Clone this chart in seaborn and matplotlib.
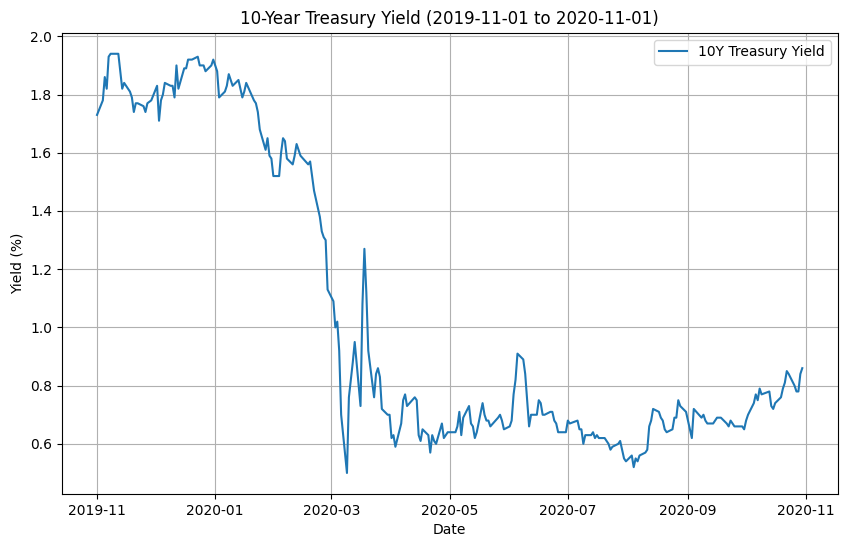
import pandas as pd
import seaborn as sns
import matplotlib.pyplot as plt

# Daily 10Y yields
nov19 = ["2019-11-01", "2019-11-04", "2019-11-05", "2019-11-06", "2019-11-07", "2019-11-08", "2019-11-12",
         "2019-11-13", "2019-11-14", "2019-11-15", "2019-11-18", "2019-11-19", "2019-11-20", "2019-11-21",
         "2019-11-22", "2019-11-25", "2019-11-26", "2019-11-27", "2019-11-29"]
nov19_y = [1.73, 1.78, 1.86, 1.82, 1.93, 1.94, 1.94, 1.88, 1.82, 1.84, 1.81, 1.79, 1.74, 1.77,
           1.77, 1.76, 1.74, 1.77, 1.78]
dec19 = ["2019-12-02", "2019-12-03", "2019-12-04", "2019-12-05", "2019-12-06", "2019-12-09", "2019-12-10",
         "2019-12-11", "2019-12-12", "2019-12-13", "2019-12-16", "2019-12-17", "2019-12-18", "2019-12-19",
         "2019-12-20", "2019-12-23", "2019-12-24", "2019-12-26", "2019-12-27", "2019-12-30", "2019-12-31"]
dec19_y = [1.83, 1.71, 1.78, 1.80, 1.84, 1.83, 1.83, 1.79, 1.90, 1.82, 1.89, 1.89, 1.92, 1.92,
           1.92, 1.93, 1.90, 1.90, 1.88, 1.90, 1.92]
jan20 = ["2020-01-02", "2020-01-03", "2020-01-06", "2020-01-07", "2020-01-08", "2020-01-09", "2020-01-10",
         "2020-01-13", "2020-01-14", "2020-01-15", "2020-01-16", "2020-01-17", "2020-01-21", "2020-01-22",
         "2020-01-23", "2020-01-24", "2020-01-27", "2020-01-28", "2020-01-29", "2020-01-30", "2020-01-31"]
jan20_y = [1.88, 1.79, 1.81, 1.83, 1.87, 1.85, 1.83, 1.85, 1.82, 1.79, 1.81, 1.84, 1.78, 1.77,
           1.74, 1.68, 1.61, 1.65, 1.59, 1.58, 1.52]
feb20 = ["2020-02-03", "2020-02-04", "2020-02-05", "2020-02-06", "2020-02-07", "2020-02-10", "2020-02-11",
         "2020-02-12", "2020-02-13", "2020-02-14", "2020-02-18", "2020-02-19", "2020-02-20", "2020-02-21",
         "2020-02-24", "2020-02-25", "2020-02-26", "2020-02-27", "2020-02-28"]
feb20_y = [1.52, 1.60, 1.65, 1.64, 1.58, 1.56, 1.59, 1.63, 1.61, 1.59, 1.56, 1.57, 1.52, 1.47,
           1.38, 1.33, 1.31, 1.30, 1.13]
mar20 = ["2020-03-02", "2020-03-03", "2020-03-04", "2020-03-05", "2020-03-06", "2020-03-09", "2020-03-10",
         "2020-03-11", "2020-03-12", "2020-03-13", "2020-03-16", "2020-03-17", "2020-03-18", "2020-03-19",
         "2020-03-20", "2020-03-23", "2020-03-24", "2020-03-25", "2020-03-26", "2020-03-27", "2020-03-30",
         "2020-03-31"]
mar20_y = [1.09, 1.00, 1.02, 0.92, 0.70, 0.50, 0.76, 0.82, 0.88, 0.95, 0.73, 1.08, 1.27, 1.12,
           0.92, 0.76, 0.84, 0.86, 0.83, 0.72, 0.70, 0.70]
apr20 = ["2020-04-01", "2020-04-02", "2020-04-03", "2020-04-06", "2020-04-07", "2020-04-08", "2020-04-09",
         "2020-04-13", "2020-04-14", "2020-04-15", "2020-04-16", "2020-04-17", "2020-04-20", "2020-04-21",
         "2020-04-22", "2020-04-23", "2020-04-24", "2020-04-27", "2020-04-28", "2020-04-29", "2020-04-30"]
apr20_y = [0.62, 0.63, 0.59, 0.67, 0.75, 0.77, 0.73, 0.76, 0.75, 0.63, 0.61, 0.65, 0.63, 0.57,
           0.63, 0.61, 0.60, 0.67, 0.62, 0.63, 0.64]
may20 = ["2020-05-01", "2020-05-04", "2020-05-05", "2020-05-06", "2020-05-07", "2020-05-08", "2020-05-11",
         "2020-05-12", "2020-05-13", "2020-05-14", "2020-05-15", "2020-05-18", "2020-05-19", "2020-05-20",
         "2020-05-21", "2020-05-22", "2020-05-26", "2020-05-27", "2020-05-28", "2020-05-29"]
may20_y = [0.64, 0.64, 0.66, 0.71, 0.63, 0.69, 0.73, 0.67, 0.66, 0.62, 0.64, 0.74, 0.70, 0.68,
           0.68, 0.66, 0.69, 0.70, 0.68, 0.65]
jun20 = ["2020-06-01", "2020-06-02", "2020-06-03", "2020-06-04", "2020-06-05", "2020-06-08", "2020-06-09",
         "2020-06-10", "2020-06-11", "2020-06-12", "2020-06-15", "2020-06-16", "2020-06-17", "2020-06-18",
         "2020-06-19", "2020-06-22", "2020-06-23", "2020-06-24", "2020-06-25", "2020-06-26", "2020-06-29",
         "2020-06-30"]
jun20_y = [0.66, 0.68, 0.77, 0.82, 0.91, 0.89, 0.84, 0.75, 0.66, 0.70, 0.70, 0.75, 0.74, 0.70,
           0.70, 0.71, 0.71, 0.68, 0.67, 0.64, 0.64, 0.64]
jul20 = ["2020-07-01", "2020-07-02", "2020-07-06", "2020-07-07", "2020-07-08", "2020-07-09", "2020-07-10",
         "2020-07-13", "2020-07-14", "2020-07-15", "2020-07-16", "2020-07-17", "2020-07-20", "2020-07-21",
         "2020-07-22", "2020-07-23", "2020-07-24", "2020-07-27", "2020-07-28", "2020-07-29", "2020-07-30",
         "2020-07-31"]
jul20_y = [0.68, 0.67, 0.68, 0.65, 0.65, 0.60, 0.63, 0.63, 0.64, 0.62, 0.63, 0.62, 0.62, 0.61,
           0.60, 0.58, 0.59, 0.60, 0.61, 0.58, 0.55, 0.54]
aug20 = ["2020-08-03", "2020-08-04", "2020-08-05", "2020-08-06", "2020-08-07", "2020-08-10", "2020-08-11",
         "2020-08-12", "2020-08-13", "2020-08-14", "2020-08-17", "2020-08-18", "2020-08-19", "2020-08-20",
         "2020-08-21", "2020-08-24", "2020-08-25", "2020-08-26", "2020-08-27", "2020-08-28", "2020-08-31"]
aug20_y = [0.56, 0.52, 0.55, 0.54, 0.56, 0.57, 0.58, 0.66, 0.68, 0.72, 0.71, 0.69, 0.68, 0.65,
           0.64, 0.65, 0.69, 0.69, 0.75, 0.73, 0.71]
sep20 = ["2020-09-01", "2020-09-02", "2020-09-03", "2020-09-04", "2020-09-08", "2020-09-09", "2020-09-10",
         "2020-09-11", "2020-09-14", "2020-09-15", "2020-09-16", "2020-09-17", "2020-09-18", "2020-09-21",
         "2020-09-22", "2020-09-23", "2020-09-24", "2020-09-25", "2020-09-28", "2020-09-29", "2020-09-30"]
sep20_y = [0.68, 0.65, 0.62, 0.72, 0.69, 0.70, 0.68, 0.67, 0.67, 0.68, 0.69, 0.69, 0.69, 0.67,
           0.66, 0.68, 0.67, 0.66, 0.66, 0.66, 0.65]
oct20 = ["2020-10-01", "2020-10-02", "2020-10-05", "2020-10-06", "2020-10-07", "2020-10-08", "2020-10-09",
         "2020-10-13", "2020-10-14", "2020-10-15", "2020-10-16", "2020-10-19", "2020-10-20", "2020-10-21",
         "2020-10-22", "2020-10-23", "2020-10-26", "2020-10-27", "2020-10-28", "2020-10-29", "2020-10-30"]
oct20_y = [0.68, 0.70, 0.74, 0.77, 0.75, 0.79, 0.77, 0.78, 0.73, 0.72, 0.74, 0.76, 0.79, 0.81,
           0.85, 0.84, 0.80, 0.78, 0.78, 0.84, 0.86]

dates = nov19 + dec19 + jan20 + feb20 + mar20 + apr20 + may20 + jun20 + jul20 + aug20 + sep20 + oct20
yields = (nov19_y + dec19_y + jan20_y + feb20_y + mar20_y + apr20_y + may20_y + jun20_y
          + jul20_y + aug20_y + sep20_y + oct20_y)

df = pd.DataFrame({"Date": pd.to_datetime(dates), "Yield": yields})

fig, ax = plt.subplots(figsize=(8.46, 5.47), dpi=100)
fig.subplots_adjust(left=0.073, right=0.99, top=0.94, bottom=0.097)
sns.lineplot(data=df, x="Date", y="Yield", ax=ax, label="10Y Treasury Yield", color="#1f77b4")
ax.set_title("10-Year Treasury Yield (2019-11-01 to 2020-11-01)")
ax.set_xlabel("Date")
ax.set_ylabel("Yield (%)")
ax.grid(True)
ax.legend(loc="upper right")
plt.savefig("out.png")
